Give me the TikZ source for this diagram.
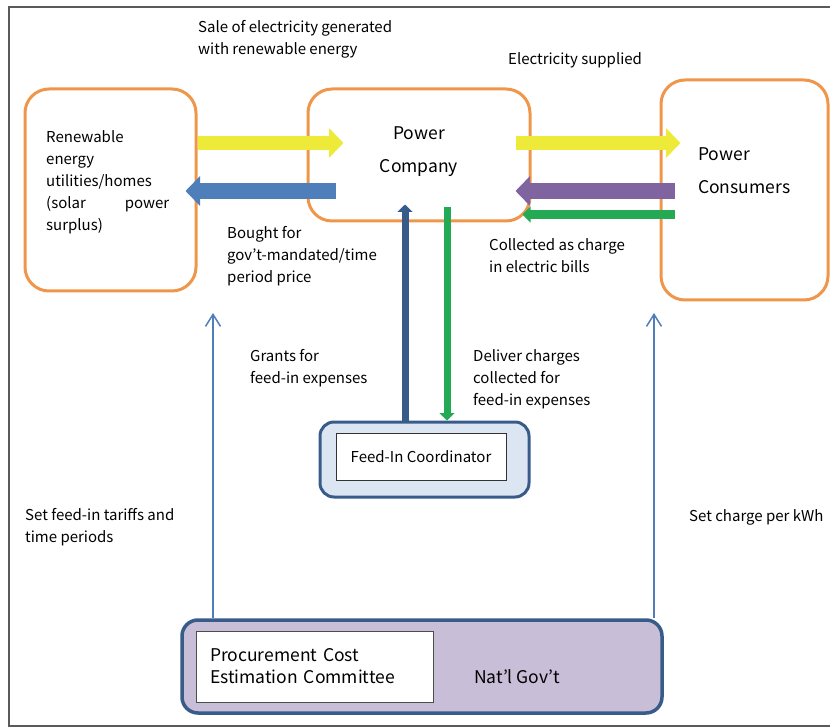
\documentclass[tikz,border=0pt]{standalone}
\usepackage{fontspec}
\setmainfont{Noto Sans CJK JP}
\usetikzlibrary{arrows.meta}
\definecolor{orng}{RGB}{240,150,74}
\definecolor{yell}{RGB}{238,234,58}
\definecolor{blu}{RGB}{79,127,186}
\definecolor{purp}{RGB}{128,100,160}
\definecolor{grn}{RGB}{36,170,84}
\definecolor{dblu}{RGB}{56,92,138}
\definecolor{lblu}{RGB}{220,230,242}
\definecolor{lav}{RGB}{200,190,216}
\definecolor{frame}{RGB}{90,90,90}
\begin{document}
\begin{tikzpicture}[x=1pt, y=-1pt,
	box/.style = {draw=orng, line width=3pt, rounded corners=24pt},
	lbl/.style = {anchor=base west, align=left, inner sep=0pt, font=\fontsize{15}{22}\selectfont},
	big/.style = {align=left, inner sep=0pt, font=\fontsize{17.5}{33}\selectfont},
	fat/.style 2 args = {line width=#1, -{Triangle[width=#2, length=#2/2]}},
	thin/.style = {draw=blu, line width=1.5pt, -{Straight Barb[length=12pt, width=15pt]}}]
	\useasboundingbox (0,0) rectangle (830,727);
	\draw[frame, line width=1.2pt] (830,7) -- (9,7) -- (9,726) -- (830,726);
	% the three parties
	\node[box, minimum width=171pt, minimum height=202pt] (renew) at (110.5,190) {};
	\node[lbl, text width=123pt] at (46,143) {Renewable\\energy\\utilities/homes\\(solar\hfill power\\surplus)};
	\node[box, minimum width=222pt, minimum height=132pt] (comp) at (419,155) {};
	\node[big, align=center] at (419,152) {Power\\Company};
	\node[box, minimum width=167pt, minimum height=220pt] (cons) at (744.5,190) {};
	\node[big, anchor=west] at (698,171) {Power\\Consumers};
	% coordinator and government
	\node[draw=dblu, fill=lblu, line width=3pt, rounded corners=14pt, minimum width=209pt, minimum height=75pt] (fic) at (424.5,459.5) {};
	\node[draw=black!80, fill=white, line width=0.8pt, minimum width=170pt, minimum height=47pt, font=\fontsize{15}{22}\selectfont] (ficin) at (421,456.5) {Feed-In Coordinator};
	\node[draw=dblu, fill=lav, line width=3.5pt, rounded corners=16pt, minimum width=480pt, minimum height=93pt] (gov) at (422,666.5) {};
	\node[draw=black!70, fill=white, line width=0.8pt, minimum height=71pt, text width=209pt, inner xsep=14pt, align=left, font=\fontsize{17.5}{22}\selectfont] (govin) at (314.5,666.5)
		{Procurement Cost\\Estimation Committee\\[3pt]};
	\node[big, anchor=base west] at (474,683) {Nat'l Gov't};
	% money and power flows
	\draw[yell, fat={14pt}{29pt}] ([yshift=47pt]renew.east) -- ([xshift=37pt, yshift=12pt]comp.west);
	\draw[blu, fat={16pt}{29pt}] ([xshift=29pt, yshift=-36pt]comp.west) -- ([xshift=-12pt, yshift=-1pt]renew.east);
	\draw[yell, fat={14pt}{29pt}] ([xshift=-16pt, yshift=12pt]comp.east) -- ([xshift=21pt, yshift=47pt]cons.west);
	\draw[purp, fat={16pt}{29pt}] ([xshift=15pt, yshift=-1pt]cons.west) -- ([xshift=-16pt, yshift=-36pt]comp.east);
	\draw[grn, fat={9pt}{16pt}] ([xshift=15pt, yshift=-24.5pt]cons.west) -- ([xshift=-9pt, yshift=-59.5pt]comp.east);
	\draw[dblu, fat={7pt}{15pt}] ([xshift=-19.5pt]fic.north) -- ([xshift=-14pt, yshift=18pt]comp.south);
	\draw[grn, fat={7pt}{15pt}] ([xshift=28pt, yshift=15pt]comp.south) -- ([xshift=22.5pt]fic.north);
	\coordinate (setL) at (213,313);
	\coordinate (setR) at (654,313);
	\draw[thin] ([xshift=-209pt]gov.north) -- (setL);
	\draw[thin] ([xshift=232pt]gov.north) -- (setR);
	% labels
	\node[lbl] at (198,55) {Sale of electricity generated\\with renewable energy};
	\node[lbl] at (508,65) {Electricity supplied};
	\node[lbl] at (227,283) {Bought for\\gov't-mandated/time\\period price};
	\node[lbl] at (489,273) {Collected as charge\\in electric bills};
	\node[lbl] at (250,383) {Grants for\\feed-in expenses};
	\node[lbl] at (473,405) {Deliver charges\\collected for\\feed-in expenses};
	\node[lbl] at (25,542) {Set feed-in tariffs and\\time periods};
	\node[lbl] at (689,521) {Set charge per kWh};
\end{tikzpicture}
\end{document}
